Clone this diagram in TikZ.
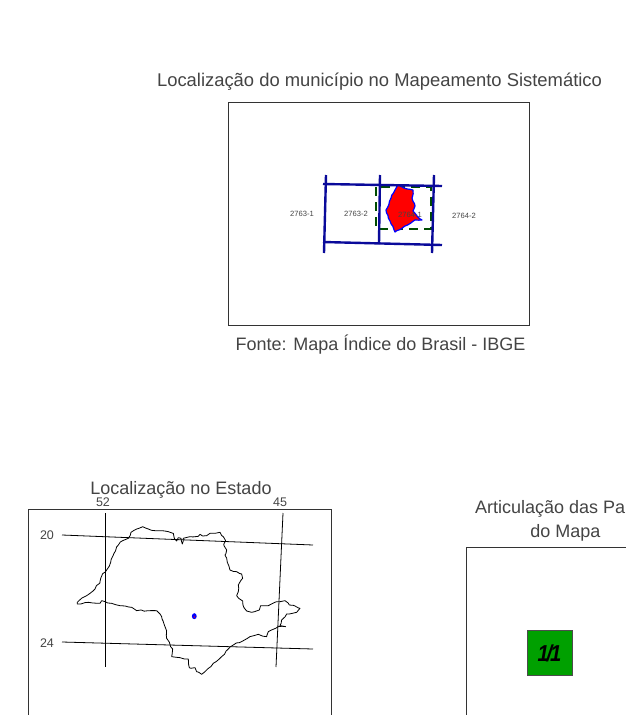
\documentclass[tikz,border=0pt]{standalone}
\usepackage{fontspec}
\usepackage{graphicx}
\usetikzlibrary{decorations.pathmorphing}
\setmainfont{Liberation Sans}
\definecolor{txt}{HTML}{444444}
\definecolor{navy}{HTML}{0A0A9A}
\definecolor{framec}{HTML}{333333}
\definecolor{greenbox}{HTML}{00A000}
\pgfmathsetseed{7}
\tikzset{
  titletext/.style={inner sep=0pt,text=txt,font=\fontsize{18}{20}\selectfont},
  ticktext/.style={inner sep=0pt,text=txt,font=\fontsize{12.5}{14}\selectfont},
  sheettext/.style={inner sep=0pt,text=txt,font=\fontsize{7.6}{9}\selectfont},
  framebox/.style={draw=framec,line width=0.9pt},
  sheetline/.style={draw=navy,line width=2.4pt},
  gridline/.style={draw=black,line width=0.8pt},
  stateline/.style={draw=black,line width=0.8pt,line join=round,decorate,decoration={random steps,segment length=3.5pt,amplitude=0.7pt}},
  cityshape/.style={fill=red,draw=blue,line width=1.2pt,line join=round,decorate,decoration={random steps,segment length=3pt,amplitude=0.6pt}},
}
\begin{document}
\begin{tikzpicture}[x=1pt,y=-1pt]
\useasboundingbox (0,0) rectangle (626,715);
\fill[white] (0,0) rectangle (626,715);
% top map
\node[titletext,font=\fontsize{18.4}{20}\selectfont] (t1) at (379.5,81.5) {Localização do município no Mapeamento Sistemático};
\draw[framebox] (228,102) rectangle (529,325);
\node[titletext] (t2) at (380.5,344.5) {Fonte: Mapa Índice do Brasil - IBGE};
\draw[draw=black!70!green,line width=1.1pt,dash pattern=on 9pt off 6pt] (376,187) rectangle (431,229);
\path[cityshape] (398,185)--(404,188)--(413,190)--(412,198)--(415,206)--(413,211)--(417,216)--(422,220)--(415,220)--(405,226)--(395,232)--(390,221)--(386,210)--(391,198)--(395,190)--cycle;
\draw[sheetline] (323,184)--(442,186);
\draw[sheetline] (323,242)--(442,245);
\draw[sheetline] (326,175)--(324,253);
\draw[sheetline] (380,175)--(379,244);
\draw[sheetline] (434,175)--(432,253);
\node[sheettext] (s1) at (302,213.5) {2763-1};
\node[sheettext] (s2) at (356,214) {2763-2};
\node[sheettext] (s3) at (410,215) {2764-1};
\node[sheettext] (s4) at (464,216) {2764-2};
% state map
\node[titletext] (t3) at (181,489.5) {Localização no Estado};
\draw[framebox] (28,715)--(28,509.5)--(331,509.5)--(331,715);
\node[ticktext] (g52) at (103,502.5) {52};
\node[ticktext] (g45) at (280,502.5) {45};
\node[ticktext] (g20) at (47,535) {20};
\node[ticktext] (g24) at (47,643) {24};
\draw[gridline] (62,535)--(313,545);
\draw[gridline] (62,642)--(313,649);
\draw[gridline] (105,513)--(105,667);
\draw[gridline] (283,513)--(276,667);
\begin{scope}[shift={(20,475)},x=0.3333pt,y=-0.3333pt]
\path[stateline] (172,382)--(178,376)--(200,362)--(225,342)--(240,320)--(248,296)--(262,282)--(272,262)--(282,235)--(295,210)--(308,197)--(325,190)--(333,172)--(350,162)--(368,155)--(385,162)--(405,167)--(425,167)--(445,170)--(460,175)--(463,190)--(470,198)--(475,188)--(483,190)--(487,207)--(490,190)--(510,185)--(535,184)--(540,178)--(548,183)--(560,182)--(570,175)--(585,175)--(600,172)--(610,185)--(617,197)--(612,212)--(620,225)--(615,240)--(622,262)--(630,285)--(650,290)--(665,297)--(668,310)--(655,330)--(655,350)--(650,362)--(668,378)--(672,398)--(680,408)--(695,412)--(718,405)--(722,392)--(745,392)--(770,380)--(795,377)--(808,390)--(825,393)--(840,400)--(830,412)--(800,417)--(785,435)--(780,452)--(797,455)--(775,455)--(745,470)--(740,485)--(715,478)--(690,485)--(670,497)--(640,510)--(625,522)--(605,545)--(580,565)--(555,590)--(545,598)--(530,590)--(525,578)--(508,578)--(505,552)--(480,548)--(455,545)--(458,522)--(440,490)--(437,460)--(425,425)--(410,407)--(385,407)--(350,407)--(335,397)--(300,392)--(275,385)--(245,377)--(240,385)--(205,382)--(172,387)--cycle;
\end{scope}
\fill[blue] (194.3,616.2) ellipse (2.4pt and 3pt);
\fill[red] (194.4,617) circle (0.8pt);
% articulation
\node[titletext,anchor=west] (t4) at (475,508.5) {Articulação das Pa};
\node[titletext] (t5) at (565.5,533) {do Mapa};
\draw[framebox] (466,715)--(466,547.5)--(626,547.5);
\node[draw=black!70,fill=greenbox,line width=0.8pt,minimum size=45pt,inner sep=0pt,font=\bfseries\itshape\fontsize{23}{25}\selectfont] (p1) at (549.5,653) {\scalebox{0.88}[1]{1\kern-2.5pt/\kern-2.5pt1}};
\end{tikzpicture}
\end{document}
